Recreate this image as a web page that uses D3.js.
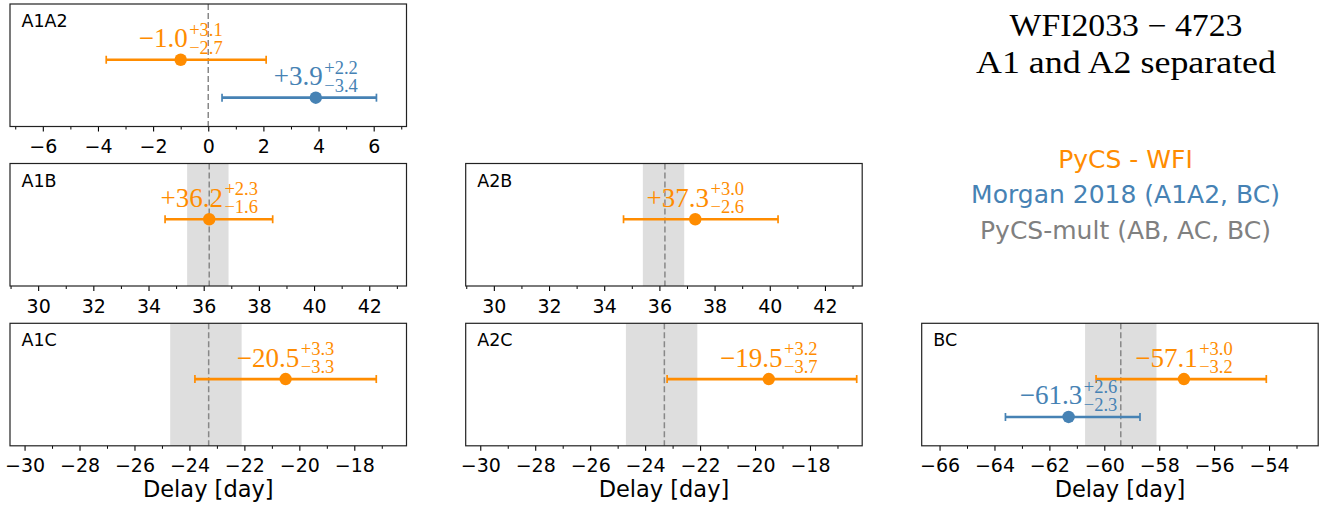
<!DOCTYPE html>
<html><head><meta charset="utf-8">
<script src="https://cdn.jsdelivr.net/npm/d3@7"></script>
<style>body{margin:0;background:#fff} svg{display:block}</style>
</head><body>
<svg id="c" width="1332" height="508"></svg>
<script>
// ---------- data ----------
const panelNames = ["A1A2", "A1B", "A2B", "A1C", "A2C", "BC"];
const xDomainLo = [-7.19, 28.98, 28.98, -30.53, -30.53, -66.65];
const xDomainHi = [7.19, 43.35, 43.35, -16.1, -16.1, -52.21];
const majorTicks = [
  [-6, -4, -2, 0, 2, 4, 6],
  [30, 32, 34, 36, 38, 40, 42],
  [30, 32, 34, 36, 38, 40, 42],
  [-30, -28, -26, -24, -22, -20, -18],
  [-30, -28, -26, -24, -22, -20, -18],
  [-66, -64, -62, -60, -58, -56, -54]
];
const minorTicks = [
  [-7, -5, -3, -1, 1, 3, 5, 7],
  [29, 31, 33, 35, 37, 39, 41, 43],
  [29, 31, 33, 35, 37, 39, 41, 43],
  [-29, -27, -25, -23, -21, -19, -17],
  [-29, -27, -25, -23, -21, -19, -17],
  [-65, -63, -61, -59, -57, -55, -53]
];
// PyCS - WFI
const wfiDelay = [-1.0, 36.2, 37.3, -20.5, -19.5, -57.1];
const wfiErrLo = [2.7, 1.6, 2.6, 3.3, 3.7, 3.2];
const wfiErrHi = [3.1, 2.3, 3.0, 3.3, 3.2, 3.0];
// Morgan 2018
const morganDelay = [3.9, null, null, null, null, -61.3];
const morganErrLo = [3.4, null, null, null, null, 2.3];
const morganErrHi = [2.2, null, null, null, null, 2.6];
// PyCS-mult (reference band)
const multDelay = [0, 36.2, 36.2, -23.3, -23.3, -59.4];
const multErrLo = [0, 0.8, 0.8, 1.4, 1.4, 1.3];
const multErrHi = [0, 0.7, 0.7, 1.2, 1.2, 1.3];

const titleLines = ["WFI2033 \u2212 4723", "A1 and A2 separated"];
const legendLabels = ["PyCS - WFI", "Morgan 2018 (A1A2, BC)", "PyCS-mult (AB, AC, BC)"];
const xLabel = "Delay [day]";

// ---------- layout ----------
const ORANGE = "#ff8c00", BLUE = "#4682b4", GRAY = "#808080";
const colLeft = [10, 465.7, 921.7], panelW = 396.5;
const rowTop = [4, 163.5, 323.3], panelH = 122.5;
const grid = [[0, 0], [1, 0], [1, 1], [2, 0], [2, 1], [2, 2]];
const SANS = "DejaVu Sans", SERIF = "Liberation Serif";

const svg = d3.select("#c");

function annotate(g, x, y, val, lo, hi, color) {
  const grp = g.append("g").attr("transform", `translate(${x},${y - 12.5})`)
    .attr("fill", color).attr("font-family", SERIF);
  const main = grp.append("text").attr("font-size", 27).text(d3.format("+.1f")(val));
  const sup = grp.append("text").attr("font-size", 18.5).attr("y", -11.5).text("+" + d3.format(".1f")(hi));
  const sub = grp.append("text").attr("font-size", 18.5).attr("y", 6.5).text("\u2212" + d3.format(".1f")(lo));
  const w1 = main.node().getComputedTextLength();
  const w2 = sup.node().getComputedTextLength();
  const w3 = sub.node().getComputedTextLength();
  const total = w1 + 1.5 + Math.max(w2, w3);
  main.attr("x", -total / 2);
  sup.attr("x", -total / 2 + w1 + 1.5);
  sub.attr("x", -total / 2 + w1 + 1.5);
}

function errorbar(g, x, y, val, lo, hi, color) {
  g.append("line").attr("x1", x(val - lo)).attr("x2", x(val + hi))
    .attr("y1", y).attr("y2", y).attr("stroke", color).attr("stroke-width", 2.7);
  [val - lo, val + hi].forEach(v => {
    g.append("line").attr("x1", x(v)).attr("x2", x(v)).attr("y1", y - 4).attr("y2", y + 4)
      .attr("stroke", color).attr("stroke-width", 1.7);
  });
  g.append("circle").attr("cx", x(val)).attr("cy", y).attr("r", 6.2).attr("fill", color);
}

panelNames.forEach((name, i) => {
  const [r, c] = grid[i];
  const L = colLeft[c], T = rowTop[r];
  const x = d3.scaleLinear().domain([xDomainLo[i], xDomainHi[i]]).range([L, L + panelW]);
  const yS = d3.scaleLinear().domain([2.47, -0.76]).range([T, T + panelH]);
  const g = svg.append("g");

  // reference band + dashed line
  if (multErrLo[i] + multErrHi[i] > 0) {
    g.append("rect").attr("x", x(multDelay[i] - multErrLo[i])).attr("y", T)
      .attr("width", x(multDelay[i] + multErrHi[i]) - x(multDelay[i] - multErrLo[i]))
      .attr("height", panelH).attr("fill", "#dedede");
  }
  g.append("line").attr("x1", x(multDelay[i])).attr("x2", x(multDelay[i]))
    .attr("y1", T).attr("y2", T + panelH).attr("stroke", "#888").attr("stroke-width", 1.5)
    .attr("stroke-dasharray", "6,3");

  // axis
  const axG = g.append("g").attr("transform", `translate(0,${T + panelH})`);
  const axMajor = d3.axisBottom(x).tickValues(majorTicks[i]).tickSize(5).tickPadding(6)
    .tickFormat(d3.format("d"));
  axG.call(axMajor);
  axG.select(".domain").remove();
  axG.selectAll(".tick line").attr("stroke", "#000").attr("stroke-width", 1.1);
  axG.selectAll(".tick text").attr("font-family", SANS).attr("font-size", 19).attr("fill", "#000")
    .attr("dy", null).attr("y", 26.5);
  const axMinor = g.append("g").attr("transform", `translate(0,${T + panelH})`)
    .call(d3.axisBottom(x).tickValues(minorTicks[i]).tickSize(3).tickFormat(""));
  axMinor.select(".domain").remove();
  axMinor.selectAll(".tick line").attr("stroke", "#000").attr("stroke-width", 1);

  // data
  errorbar(g, x, yS(1), wfiDelay[i], wfiErrLo[i], wfiErrHi[i], ORANGE);
  annotate(g, x(wfiDelay[i]), yS(1), wfiDelay[i], wfiErrLo[i], wfiErrHi[i], ORANGE);
  if (morganDelay[i] !== null) {
    errorbar(g, x, yS(0), morganDelay[i], morganErrLo[i], morganErrHi[i], BLUE);
    annotate(g, x(morganDelay[i]), yS(0), morganDelay[i], morganErrLo[i], morganErrHi[i], BLUE);
  }

  // frame
  g.append("rect").attr("x", L).attr("y", T).attr("width", panelW).attr("height", panelH)
    .attr("fill", "none").attr("stroke", "#222").attr("stroke-width", 1.2);

  // panel label
  g.append("text").attr("x", L + 11.5).attr("y", T + 23).attr("font-family", SANS)
    .attr("font-size", 17.5).attr("fill", "#000").text(name);

  if (r === 2) {
    g.append("text").attr("x", L + panelW / 2).attr("y", 496.7).attr("text-anchor", "middle")
      .attr("font-family", SANS).attr("font-size", 22.5).attr("fill", "#000").text(xLabel);
  }
});

// title
const titleW = [233, 300], titleY = [36, 72.7];
titleLines.forEach((t, k) => {
  svg.append("text").attr("x", 1126).attr("y", titleY[k]).attr("text-anchor", "middle")
    .attr("font-family", SERIF).attr("font-size", 31).attr("fill", "#000")
    .attr("textLength", titleW[k]).attr("lengthAdjust", "spacingAndGlyphs").text(t);
});

// legend
const legendColors = [ORANGE, BLUE, GRAY], legendY = [167.7, 203.3, 239.3];
legendLabels.forEach((t, k) => {
  svg.append("text").attr("x", 1125.5).attr("y", legendY[k]).attr("text-anchor", "middle")
    .attr("font-family", SANS).attr("font-size", 25).attr("fill", legendColors[k]).text(t);
});
</script>
</body></html>
